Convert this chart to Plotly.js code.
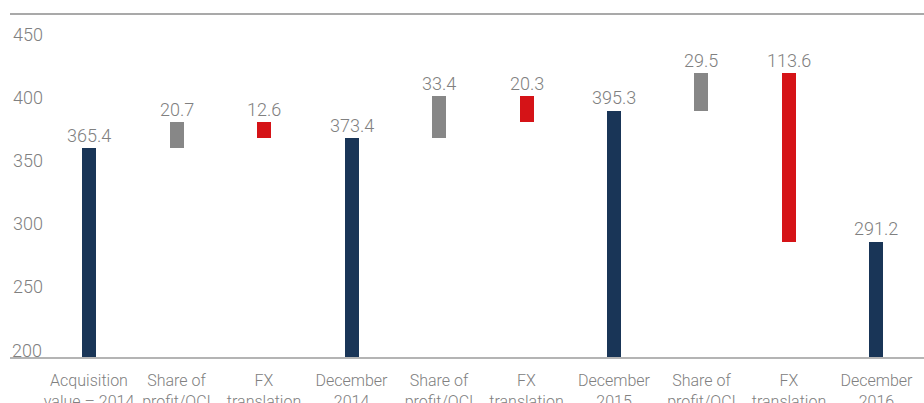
<!DOCTYPE html>
<html>
<head>
<meta charset="utf-8">
<script src="https://cdn.plot.ly/plotly-3.0.1.min.js"></script>
<style>html,body{margin:0;padding:0;background:#fff;}#chart{width:924px;height:403px;}</style>
</head>
<body>
<div id="chart"></div>
<script>
// Categories (x-axis labels)
const categories = [
  "Acquisition<br>value – 2014", "Share of<br>profit/OCI", "FX<br>translation",
  "December<br>2014", "Share of<br>profit/OCI", "FX<br>translation",
  "December<br>2015", "Share of<br>profit/OCI", "FX<br>translation",
  "December<br>2016"
];
// Bar kind: total / increase / decrease
const kinds = ["total","up","down","total","up","down","total","up","down","total"];
// Value shown above each bar
const labels = ["365.4","20.7","12.6","373.4","33.4","20.3","395.3","29.5","113.6","291.2"];
// Bar start (base)
const barStart = [0, 365.4, 386.1, 0, 373.4, 406.8, 0, 395.3, 424.8, 0];
// Bar end
const barEnd = [365.4, 386.1, 373.5, 373.4, 406.8, 386.5, 395.3, 424.8, 291.2, 291.2];
const yTicks = [200, 250, 300, 350, 400, 450];

const colorOf = {total: "#193557", up: "#878787", down: "#d51317"};
const xIdx = categories.map((_, i) => i);
const labelFont = {family: "Roboto", weight: 300, size: 18, color: "#808080"};

const trace = {
  type: "bar",
  x: xIdx,
  base: barStart,
  y: barEnd.map((e, i) => e - barStart[i]),
  width: 0.16,
  marker: {color: kinds.map(k => colorOf[k]), line: {width: 0}},
  hoverinfo: "skip"
};

const annotations = labels.map((t, i) => ({
  x: i, y: Math.max(barStart[i], barEnd[i]),
  xref: "x", yref: "y",
  text: t, showarrow: false,
  yanchor: "middle", yshift: 13,
  font: labelFont
}));
// lowest y tick label (Plotly hides inside labels that touch the plot edge)
annotations.push({
  x: 0, xref: "paper", y: yTicks[0], yref: "y",
  text: String(yTicks[0]), showarrow: false,
  xanchor: "left", yanchor: "middle", yshift: 7, xshift: 0,
  font: labelFont
});

const layout = {
  width: 924, height: 403,
  margin: {l: 10, r: 0, t: 14, b: 46},
  paper_bgcolor: "#fff", plot_bgcolor: "#fff",
  showlegend: false,
  bargap: 0,
  font: {family: "Roboto", weight: 300, color: "#808080"},
  xaxis: {
    range: [-0.903, 9.543],
    tickmode: "array", tickvals: xIdx, ticktext: categories,
    showgrid: false, zeroline: false,
    showline: true, linecolor: "#b4b4b4", linewidth: 1.5,
    ticks: "", ticklabelstandoff: 8,
    tickfont: {family: "Roboto", weight: 300, size: 16, color: "#808080"},
    fixedrange: true
  },
  yaxis: {
    range: [200, 471.8],
    tickmode: "array", tickvals: yTicks, ticktext: yTicks.map(String),
    showgrid: false, zeroline: false, showline: false,
    ticks: "", ticklabelposition: "inside",
    ticklabelshift: -7,
    tickfont: labelFont,
    fixedrange: true
  },
  shapes: [{
    type: "line", xref: "paper", yref: "paper",
    x0: 0, x1: 1, y0: 1, y1: 1,
    line: {color: "#8c8c8c", width: 1.5}
  }],
  annotations: annotations
};

Plotly.newPlot("chart", [trace], layout, {displayModeBar: false, staticPlot: true});
</script>
</body>
</html>
